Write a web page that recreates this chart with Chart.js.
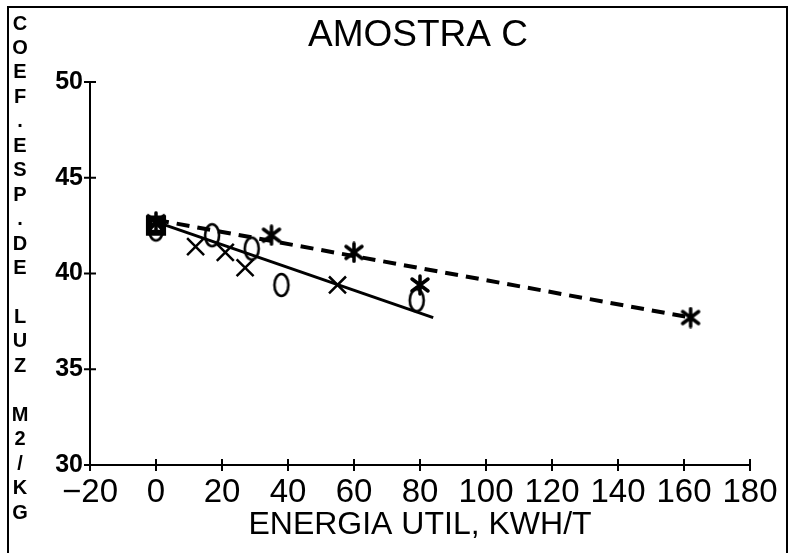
<!DOCTYPE html>
<html lang="pt">
<head>
<meta charset="UTF-8" />
<title>Amostra C</title>
<script src="https://cdn.jsdelivr.net/npm/chart.js"></script>
<style>
  html, body { margin: 0; padding: 0; background: #fff; }
  #caixa { width: 794px; height: 553px; position: relative; }
</style>
</head>
<body>
<div id="caixa"><canvas id="grafico"></canvas></div>
<script>
  // eixos
  const xTicks = [-20, 0, 20, 40, 60, 80, 100, 120, 140, 160, 180];
  const yTicks = [30, 35, 40, 45, 50];

  // pontos medidos (energia util, coef. esp. de luz)
  const xisEnergia = [0, 12, 21, 27, 55];
  const xisCoef = [42.6, 41.4, 41.1, 40.3, 39.4];
  const circEnergia = [0, 17, 29, 38, 79];
  const circCoef = [42.3, 42.0, 41.3, 39.4, 38.6];
  const astEnergia = [0, 35, 60, 80, 162];
  const astCoef = [42.7, 42.0, 41.1, 39.4, 37.7];
  const quadEnergia = [0];
  const quadCoef = [42.5];

  // retas ajustadas
  const retaXisEnergia = [0, 84];
  const retaXisCoef = [42.7, 37.7];
  const retaAstEnergia = [0, 162];
  const retaAstCoef = [42.8, 37.7];

  const titulo = 'AMOSTRA C';
  // legenda vertical do eixo y, uma letra por linha
  const letrasY = ['C','O','E','F','.','E','S','P','.','D','E','','L','U','Z','','M','2','/','K','G'];

  const pares = (xs, ys) => xs.map((x, i) => ({ x: x, y: ys[i] }));

  // marcador "0" (oval) e asterisco desenhados em canvas pequenos
  function marcaOval() {
    const c = document.createElement('canvas');
    c.width = 20; c.height = 28;
    const g = c.getContext('2d');
    g.strokeStyle = '#000'; g.lineWidth = 2.6;
    g.beginPath(); g.ellipse(10, 14, 7, 11, 0, 0, Math.PI * 2); g.stroke();
    return c;
  }
  function marcaAsterisco() {
    const c = document.createElement('canvas');
    c.width = 22; c.height = 22;
    const g = c.getContext('2d');
    g.strokeStyle = '#000'; g.lineWidth = 3.5; g.lineCap = 'round';
    g.beginPath();
    g.moveTo(11, 2); g.lineTo(11, 20);
    g.moveTo(3, 5); g.lineTo(19, 17);
    g.moveTo(19, 5); g.lineTo(3, 17);
    g.stroke();
    return c;
  }

  const fonte = '"Liberation Sans", Arial, sans-serif';

  const molduraETextos = {
    id: 'molduraETextos',
    afterDraw(chart) {
      const { ctx, chartArea, scales } = chart;
      ctx.save();
      ctx.strokeStyle = '#000';
      ctx.lineWidth = 2;
      ctx.beginPath();
      ctx.moveTo(8, 560); ctx.lineTo(8, 7); ctx.lineTo(787, 7); ctx.lineTo(787, 560);
      ctx.stroke();
      // marcas atravessando os eixos
      ctx.beginPath();
      scales.x.ticks.forEach(t => {
        const px = scales.x.getPixelForValue(t.value);
        ctx.moveTo(px, chartArea.bottom - 6); ctx.lineTo(px, chartArea.bottom + 6);
      });
      scales.y.ticks.forEach(t => {
        const py = scales.y.getPixelForValue(t.value);
        ctx.moveTo(chartArea.left - 6, py); ctx.lineTo(chartArea.left + 6, py);
      });
      ctx.stroke();
      ctx.fillStyle = '#000';
      ctx.textAlign = 'center';
      ctx.textBaseline = 'middle';
      ctx.font = '37px ' + fonte;
      ctx.fillText(titulo, 418, 36);
      ctx.font = 'bold 20px ' + fonte;
      letrasY.forEach((l, i) => ctx.fillText(l, 20, 24 + i * 24.45));
      ctx.restore();
    }
  };

  new Chart(document.getElementById('grafico'), {
    type: 'scatter',
    data: {
      datasets: [
        { data: pares(retaXisEnergia, retaXisCoef), showLine: true, borderColor: '#000', borderWidth: 3, pointRadius: 0 },
        { data: pares(retaAstEnergia, retaAstCoef), showLine: true, borderColor: '#000', borderWidth: 4, borderDash: [13, 8], pointRadius: 0 },
        { data: pares(xisEnergia, xisCoef), pointStyle: 'crossRot', pointRadius: 12, borderColor: '#000', borderWidth: 2.5 },
        { data: pares(circEnergia, circCoef), pointStyle: marcaOval(), borderColor: '#000' },
        { data: pares(astEnergia, astCoef), pointStyle: marcaAsterisco(), borderColor: '#000' },
        { data: pares(quadEnergia, quadCoef), pointStyle: 'rect', pointRadius: 10, borderColor: '#000', borderWidth: 6, backgroundColor: 'rgba(0,0,0,0)' }
      ]
    },
    options: {
      responsive: true,
      maintainAspectRatio: false,
      animation: false,
      layout: { padding: { top: 82, right: 44, left: 0, bottom: 0 } },
      plugins: {
        legend: { display: false },
        tooltip: { enabled: false },
        title: { display: false }
      },
      scales: {
        x: {
          type: 'linear',
          min: -20, max: 180,
          afterBuildTicks: s => { s.ticks = xTicks.map(v => ({ value: v })); },
          afterFit: s => { s.height = 88; },
          grid: { display: false, drawTicks: false },
          border: { display: true, color: '#000', width: 2 },
          ticks: {
            color: '#000', padding: 8, maxRotation: 0, autoSkip: false,
            font: { family: fonte, size: 33 },
            callback: v => String(v).replace('-', '\u2212')
          },
          title: {
            display: true, text: 'ENERGIA UTIL, KWH/T', color: '#000',
            font: { family: fonte, size: 32 },
            padding: { top: 0, bottom: 9 }
          }
        },
        y: {
          type: 'linear',
          min: 30, max: 50,
          afterBuildTicks: s => { s.ticks = yTicks.map(v => ({ value: v })); },
          afterFit: s => { s.width = 90; },
          grid: { display: false, drawTicks: false },
          border: { display: true, color: '#000', width: 2 },
          ticks: {
            color: '#000', padding: 7,
            font: { family: fonte, size: 25, weight: 'bold' }
          }
        }
      }
    },
    plugins: [molduraETextos]
  });
</script>
</body>
</html>
